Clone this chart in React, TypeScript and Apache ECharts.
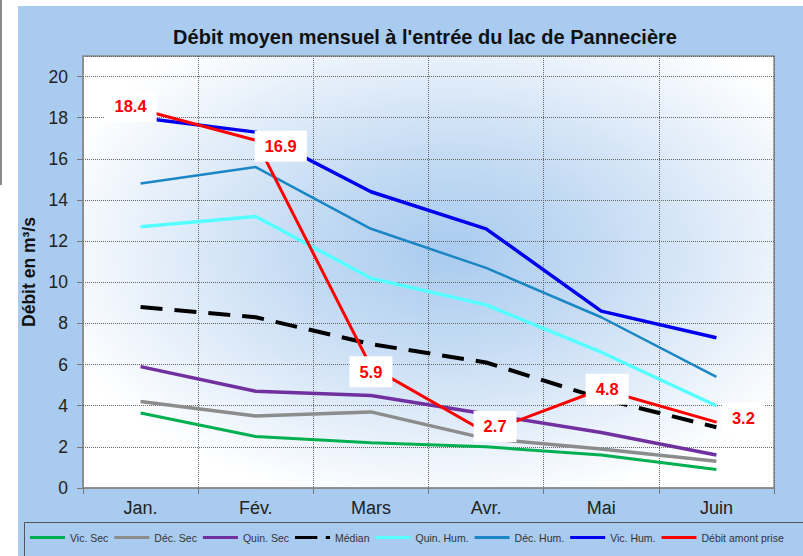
import React, { useEffect, useRef } from "react";
import * as echarts from "echarts";

const months = ["Jan.", "Fév.", "Mars", "Avr.", "Mai", "Juin"];
const vicSec = [3.65, 2.5, 2.2, 2.0, 1.6, 0.9];
const decSec = [4.2, 3.5, 3.7, 2.4, 1.9, 1.3];
const quinSec = [5.9, 4.7, 4.5, 3.6, 2.7, 1.6];
const median = [8.8, 8.3, 7.0, 6.1, 4.35, 2.95];
const quinHum = [12.7, 13.2, 10.2, 8.9, 6.6, 4.0];
const decHum = [14.8, 15.6, 12.6, 10.7, 8.3, 5.4];
const vicHum = [18.0, 17.3, 14.4, 12.6, 8.6, 7.3];
const debitAmont = [18.4, 16.9, 5.9, 2.7, 4.8, 3.2];

const seriesNames = [
  "Vic. Sec",
  "Déc. Sec",
  "Quin. Sec",
  "Médian",
  "Quin. Hum.",
  "Déc. Hum.",
  "Vic. Hum.",
  "Débit amont prise",
];

const FONT = "'Liberation Sans', Arial, sans-serif";

export default function App() {
  const ref = useRef<HTMLDivElement>(null);

  useEffect(() => {
    document.body.style.margin = "0";
    if (!ref.current) return;
    const chart = echarts.init(ref.current, null, { renderer: "svg" });

    const labelOffsets = [
      [-10, -3],
      [25, 6],
      [0, 5],
      [9, -6],
      [6, 0],
      [27, -4],
    ];

    const lineSeries = (
      name: string,
      data: number[],
      color: string,
      width: number,
      type: any = "solid"
    ) => ({
      name,
      type: "line",
      data,
      symbol: "none",
      lineStyle: { color, width, type, cap: "butt" },
      itemStyle: { color },
      emphasis: { disabled: true },
    });

    const legendData = seriesNames.map((n) =>
      n === "Médian"
        ? { name: n, icon: "path://M0,0h21v3h-21z M29,0h4v3h-4z" }
        : { name: n, icon: "rect" }
    );

    const option: any = {
      animation: false,
      backgroundColor: "#ffffff",
      textStyle: { fontFamily: FONT },
      graphic: [
        {
          type: "rect",
          z: -10,
          silent: true,
          shape: { x: 18, y: 6, width: 790, height: 560 },
          style: { fill: "#A8CBEF" },
        },
        {
          type: "rect",
          z: -10,
          silent: true,
          shape: { x: 0, y: 0, width: 2, height: 185 },
          style: { fill: "#8a8a8a" },
        },
        {
          type: "rect",
          z: 1,
          silent: true,
          shape: { x: 24.5, y: 522.5, width: 800, height: 50 },
          style: { fill: "none", stroke: "#555555", lineWidth: 1 },
        },
      ],
      title: {
        text: "Débit moyen mensuel à l'entrée du lac de Pannecière",
        left: 420,
        textAlign: "center",
        top: 22,
        textStyle: {
          fontFamily: FONT,
          fontSize: 20,
          fontWeight: "bold",
          color: "#111",
        },
      },
      legend: {
        left: 30,
        top: 532,
        width: 1200,
        itemWidth: 35,
        itemHeight: 3,
        itemGap: 6,
        padding: 0,
        symbolKeepAspect: false,
        data: legendData,
        textStyle: { fontFamily: FONT, fontSize: 10.5, color: "#333" },
      },
      grid: {
        left: 83,
        top: 56,
        right: 29,
        bottom: 68,
        show: true,
        borderColor: "#8c8c8c",
        borderWidth: 1.5,
        backgroundColor: {
          type: "radial",
          x: 0.53,
          y: 0.45,
          r: 0.6,
          colorStops: [
            { offset: 0, color: "#A9CBEF" },
            { offset: 0.35, color: "#C3DAF3" },
            { offset: 1, color: "#FFFFFF" },
          ],
        },
      },
      xAxis: {
        type: "category",
        data: months,
        boundaryGap: true,
        axisLine: { lineStyle: { color: "#8c8c8c", width: 1.5 } },
        axisTick: { show: true, length: 6, lineStyle: { color: "#777" } },
        axisLabel: {
          fontFamily: FONT,
          fontSize: 18,
          color: "#222",
          margin: 11,
        },
        splitLine: {
          show: true,
          lineStyle: { color: "#666", type: "dotted", width: 1 },
        },
      },
      yAxis: {
        type: "value",
        min: 0,
        max: 21,
        interval: 2,
        name: "Débit en m³/s",
        nameLocation: "middle",
        nameGap: 44,
        nameTextStyle: {
          fontFamily: FONT,
          fontSize: 17.5,
          fontWeight: "bold",
          color: "#111",
        },
        axisLine: { show: true, lineStyle: { color: "#8c8c8c", width: 1.5 } },
        axisTick: { show: true, length: 6, lineStyle: { color: "#777" } },
        axisLabel: {
          fontFamily: FONT,
          fontSize: 17.5,
          color: "#222",
          margin: 15,
          showMaxLabel: false,
        },
        splitLine: {
          show: true,
          lineStyle: { color: "#666", type: "dotted", width: 1 },
        },
      },
      series: [
        lineSeries(seriesNames[0], vicSec, "#00B050", 3),
        lineSeries(seriesNames[1], decSec, "#8C8C8C", 3.5),
        lineSeries(seriesNames[2], quinSec, "#7030A0", 3.5),
        lineSeries(seriesNames[3], median, "#000000", 4, [22, 12]),
        lineSeries(seriesNames[4], quinHum, "#55FFFF", 3.5),
        lineSeries(seriesNames[5], decHum, "#1B86C4", 2.5),
        lineSeries(seriesNames[6], vicHum, "#0000EE", 3.5),
        {
          name: seriesNames[7],
          type: "line",
          symbol: "circle",
          symbolSize: 1,
          showSymbol: true,
          z: 5,
          lineStyle: { color: "#FF0000", width: 3 },
          itemStyle: { color: "#FF0000" },
          emphasis: { disabled: true },
          label: {
            show: true,
            position: "inside",
            fontFamily: FONT,
            fontSize: 16.5,
            fontWeight: "bold",
            color: "#FF0000",
            backgroundColor: "#FFFFFF",
            padding: [7, 10],
            formatter: (p: any) => Number(p.value).toFixed(1),
          },
          data: debitAmont.map((v, i) => ({
            value: v,
            label: { offset: labelOffsets[i] },
          })),
        },
      ],
    };

    chart.setOption(option);
    return () => chart.dispose();
  }, []);

  return (
    <div
      ref={ref}
      style={{ position: "absolute", left: 0, top: 0, width: 803, height: 556 }}
    />
  );
}
